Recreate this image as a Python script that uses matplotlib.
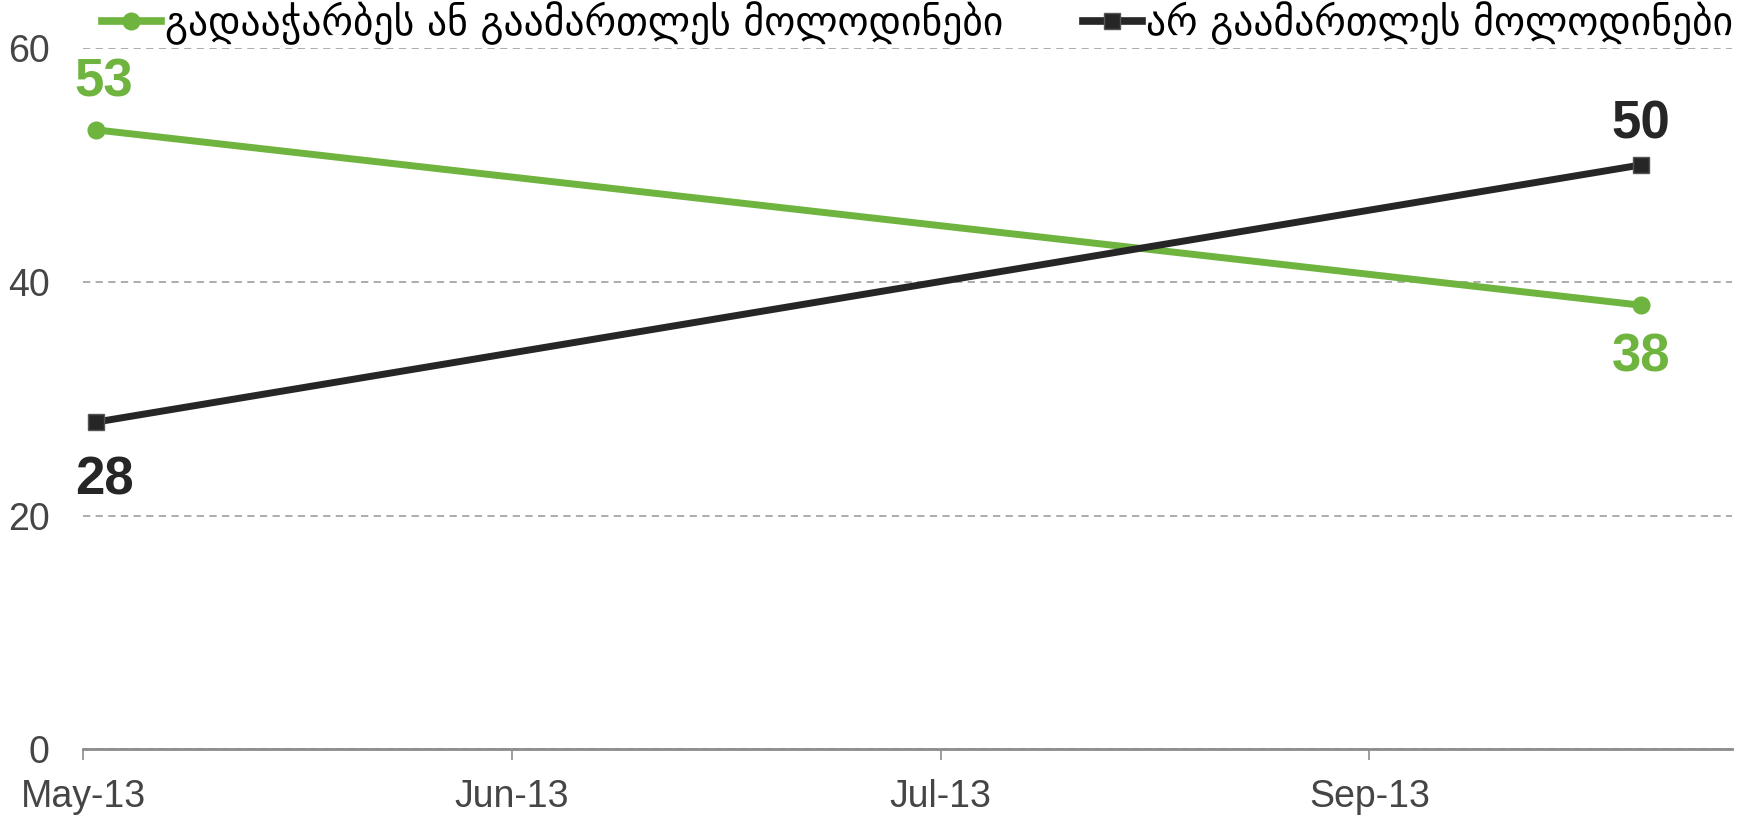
import numpy as np
import matplotlib.pyplot as plt

# data
x_pos = [0.03, 3.634]           # survey waves on the month axis
exceeded = [53, 38]             # exceeded or met expectations
not_met = [28, 50]              # did not meet expectations
tick_pos = [0, 1, 2, 3]
tick_labels = ["May-13", "Jun-13", "Jul-13", "Sep-13"]
y_ticks = [0, 20, 40, 60]
name_exceeded = "გადააჭარბეს ან გაამართლეს მოლოდინები"
name_not_met = "არ გაამართლეს მოლოდინები"

green = "#6EB43F"
dark = "#262626"
grey = "#454545"

plt.rcParams['font.family'] = ['Liberation Sans', 'DejaVu Sans']

fig = plt.figure(figsize=(17.54, 8.15), dpi=100)
ax = fig.add_axes([0.0473, 0.0804, 0.9402, 0.8607])

l1, = ax.plot(x_pos, exceeded, color=green, lw=5, marker='o', ms=12, zorder=3)
l2, = ax.plot(x_pos, not_met, color=dark, lw=5, marker='s', ms=11,
              mec="#555555", mew=1, zorder=3)

# value labels
offs_g = [(6, 34), (0, -38)]
offs_k = [(6, -42), (0, 29)]
for xi, v, o in zip(x_pos, exceeded, offs_g):
    ax.annotate(str(v), (xi, v), xytext=o, textcoords='offset points',
                ha='center', va='center', fontsize=38, fontweight='bold', color=green)
for xi, v, o in zip(x_pos, not_met, offs_k):
    ax.annotate(str(v), (xi, v), xytext=o, textcoords='offset points',
                ha='center', va='center', fontsize=38, fontweight='bold', color=dark)

ax.set_xlim(0, 3.846)
ax.set_ylim(0, 60)
ax.set_xticks(tick_pos)
ax.set_xticklabels(tick_labels)
ax.set_yticks(y_ticks)
ax.yaxis.grid(True, linestyle=(0, (4, 3)), color="#A6A6A6", lw=1.3)
ax.set_axisbelow(True)
for s in ['left', 'right', 'top']:
    ax.spines[s].set_visible(False)
ax.spines['bottom'].set_color("#8C8C8C")
ax.spines['bottom'].set_linewidth(2)
ax.tick_params(axis='y', length=0, pad=24, labelsize=27, labelcolor=grey)
ax.tick_params(axis='x', length=8, width=1.2, color="#8C8C8C", pad=13,
               labelsize=27, labelcolor=grey)

leg = fig.legend([l1, l2], [name_exceeded, name_not_met], loc='center',
                 bbox_to_anchor=(0.523, 0.972), ncol=2, frameon=False,
                 handlelength=1.5, handletextpad=0.1, columnspacing=2.0,
                 prop={'family': ['DejaVu Sans'], 'size': 28.5})
for h in leg.legend_handles:
    h.set_linewidth(5.5)

fig.savefig("out.png", dpi=100)
